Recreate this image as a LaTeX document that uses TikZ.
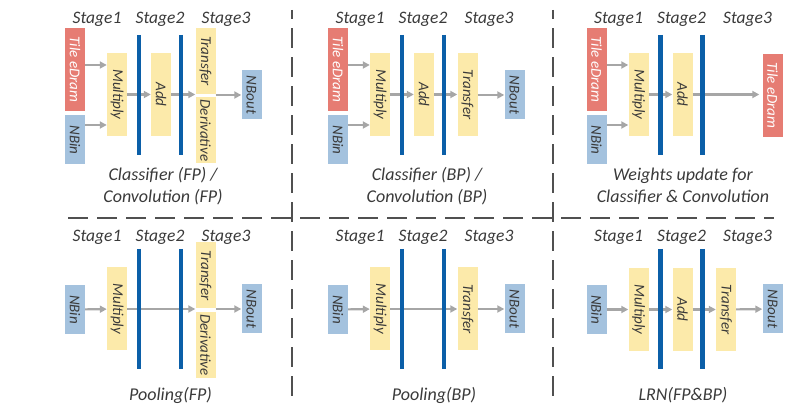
\documentclass[tikz,border=0pt]{standalone}
\usepackage{fontspec}
\setmainfont{Carlito}
\usepackage{graphicx}
\usetikzlibrary{arrows.meta,positioning}

\definecolor{edramred}{HTML}{E67C73}
\definecolor{nbblue}{HTML}{A4C2DE}
\definecolor{unityellow}{HTML}{FCEAAA}
\definecolor{barblue}{HTML}{0B5FA8}
\definecolor{flowgray}{HTML}{A6A6A6}
\definecolor{divgray}{HTML}{505050}
\definecolor{txtgray}{HTML}{3A3A3A}

\newcommand{\vlabel}[1]{\rotatebox{-90}{#1}}

\tikzset{
  box/.style={inner sep=0pt, minimum width=20pt, text=txtgray,
    font=\fontsize{15}{17}\selectfont\itshape},
  edram/.style={box, fill=edramred, text=white, minimum height=83pt},
  nbuf/.style={box, fill=nbblue, minimum height=49pt},
  unit/.style={box, fill=unityellow, minimum height=83pt},
  halfunit/.style={unit, minimum height=66pt},
  stagebar/.style={draw=barblue, line width=4.3pt},
  flow/.style={draw=flowgray, line width=2.2pt, -{Triangle[length=7pt,width=7pt]}},
  stagelabel/.style={text=txtgray, font=\fontsize{17.5}{21}\selectfont\itshape},
  captext/.style={text=txtgray, align=center, font=\fontsize{18}{22}\selectfont\itshape},
  divider/.style={draw=divgray, line width=2.7pt, dash pattern=on 19.5pt off 9.5pt}
}

\begin{document}
\begin{tikzpicture}[x=1pt, y=-1pt]
    \useasboundingbox (0,0) rectangle (803,411);

    % Classifier / Convolution (FP)
    \node[edram]                     (tile1)  at (75,69.5)   {\vlabel{Tile eDram}};
    \node[nbuf, below=4pt of tile1]  (nbin1)                 {\vlabel{NBin}};
    \node[unit]                      (mult1)  at (117,94.5)  {\vlabel{Multiply}};
    \node[unit]                      (add1)   at (161,94.5)  {\vlabel{Add}};
    \node[halfunit]                  (trans1) at (205.5,61)  {\vlabel{Transfer}};
    \node[halfunit, below=3pt of trans1] (deriv1)            {\vlabel{Derivative}};
    \node[nbuf]                      (nbout1) at (251.5,95)  {\vlabel{NBout}};
    \node[captext] (cap1) at (163,186) {Classifier (FP) /\\Convolution (FP)};

    \draw[flow] (tile1.east |- 0,65) -- (mult1.west |- 0,65);
    \draw[flow] (nbin1.east |- 0,125) -- (mult1.west |- 0,125);
    \draw[flow] (mult1) -- (add1);
    \draw[flow] (add1.east) -- (trans1.west |- add1.east);
    \draw[flow] (trans1.east |- nbout1.west) -- (nbout1.west);

    % Classifier / Convolution (BP)
    \begin{scope}[shift={(263,0)}]
    \node[edram]                     (tile2)  at (75,69.5)   {\vlabel{Tile eDram}};
    \node[nbuf, below=4pt of tile2]  (nbin2)                 {\vlabel{NBin}};
    \node[unit]                      (mult2)  at (117,94.5)  {\vlabel{Multiply}};
    \node[unit]                      (add2)   at (161,94.5)  {\vlabel{Add}};
    \node[unit]                      (trans2) at (204.5,94.5) {\vlabel{Transfer}};
    \node[nbuf]                      (nbout2) at (251.5,95)  {\vlabel{NBout}};
    \node[captext] (cap2) at (164,186) {Classifier (BP) /\\Convolution (BP)};

    \draw[flow] (tile2.east |- 0,65) -- (mult2.west |- 0,65);
    \draw[flow] (nbin2.east |- 0,125) -- (mult2.west |- 0,125);
    \draw[flow] (mult2) -- (add2);
    \draw[flow] (add2) -- (trans2);
    \draw[flow] (trans2.east |- nbout2.west) -- (nbout2.west);
    \end{scope}

    % Weights update
    \begin{scope}[shift={(521.5,0)}]
    \node[edram]                     (tile3)  at (75,69.5)   {\vlabel{Tile eDram}};
    \node[nbuf, below=4pt of tile3]  (nbin3)                 {\vlabel{NBin}};
    \node[unit]                      (mult3)  at (117,94.5)  {\vlabel{Multiply}};
    \node[unit]                      (add3)   at (161,94.5)  {\vlabel{Add}};
    \node[edram]                     (tout3)  at (251,95.5)  {\vlabel{Tile eDram}};
    \node[captext] (cap3) at (161.5,186) {Weights update for\\Classifier \& Convolution};

    \draw[flow] (tile3.east |- 0,65) -- (mult3.west |- 0,65);
    \draw[flow] (nbin3.east |- 0,125) -- (mult3.west |- 0,125);
    \draw[flow] (mult3) -- (add3);
    \draw[flow, shorten >=3pt] (add3.east) -- (tout3.west |- add3.east);
    \end{scope}

    % Pooling (FP)
    \node[nbuf]                      (nbin4)  at (75,309.5)  {\vlabel{NBin}};
    \node[unit]                      (mult4)  at (117,309)   {\vlabel{Multiply}};
    \node[halfunit]                  (trans4) at (205.5,275.5) {\vlabel{Transfer}};
    \node[halfunit, below=3pt of trans4] (deriv4)            {\vlabel{Derivative}};
    \node[nbuf]                      (nbout4) at (251.5,309) {\vlabel{NBout}};
    \node[captext] (cap4) at (170.5,395) {Pooling(FP)};

    \draw[flow] (nbin4) -- (mult4);
    \draw[flow] (mult4.east) -- (trans4.west |- mult4.east);
    \draw[flow] (trans4.east |- nbout4.west) -- (nbout4.west);

    % Pooling (BP)
    \begin{scope}[shift={(263,0)}]
    \node[nbuf]                      (nbin5)  at (75,309.5)  {\vlabel{NBin}};
    \node[unit]                      (mult5)  at (117,309)   {\vlabel{Multiply}};
    \node[unit]                      (trans5) at (204.5,309) {\vlabel{Transfer}};
    \node[nbuf]                      (nbout5) at (251.5,309) {\vlabel{NBout}};
    \node[captext] (cap5) at (171,395) {Pooling(BP)};

    \draw[flow] (nbin5) -- (mult5);
    \draw[flow] (mult5) -- (trans5);
    \draw[flow] (trans5) -- (nbout5);
    \end{scope}

    % LRN
    \begin{scope}[shift={(521.5,0)}]
    \node[nbuf]                      (nbin6)  at (75,309.5)  {\vlabel{NBin}};
    \node[unit]                      (mult6)  at (117,309.5) {\vlabel{Multiply}};
    \node[unit]                      (add6)   at (161,309.5) {\vlabel{Add}};
    \node[unit]                      (trans6) at (204.5,309.5) {\vlabel{Transfer}};
    \node[nbuf]                      (nbout6) at (251,309)   {\vlabel{NBout}};
    \node[captext] (cap6) at (161.5,395) {LRN(FP\&BP)};

    \draw[flow] (nbin6) -- (mult6);
    \draw[flow] (mult6) -- (add6);
    \draw[flow] (add6) -- (trans6);
    \draw[flow] (trans6) -- (nbout6);
    \end{scope}

    % stage labels and pipeline registers
    \foreach \dx/\p in {0/a,263/b,521.5/c}
      \foreach \y/\by/\r in {0/0/t,218/214/b} {
        \node[stagelabel] (s1\p\r) at (97+\dx,19+\y)  {Stage1};
        \node[stagelabel] (s2\p\r) at (160+\dx,19+\y) {Stage2};
        \node[stagelabel] (s3\p\r) at (226+\dx,19+\y) {Stage3};
        \draw[stagebar] (139+\dx,35+\by) -- (139+\dx,155+\by);
        \draw[stagebar] (181+\dx,35+\by) -- (181+\dx,155+\by);
      }

    \draw[divider, dash phase=10.5pt] (292,10) -- (292,397);
    \draw[divider, dash phase=10.5pt] (553,10) -- (553,397);
    \draw[divider] (68,218) -- (774,218);
\end{tikzpicture}
\end{document}
